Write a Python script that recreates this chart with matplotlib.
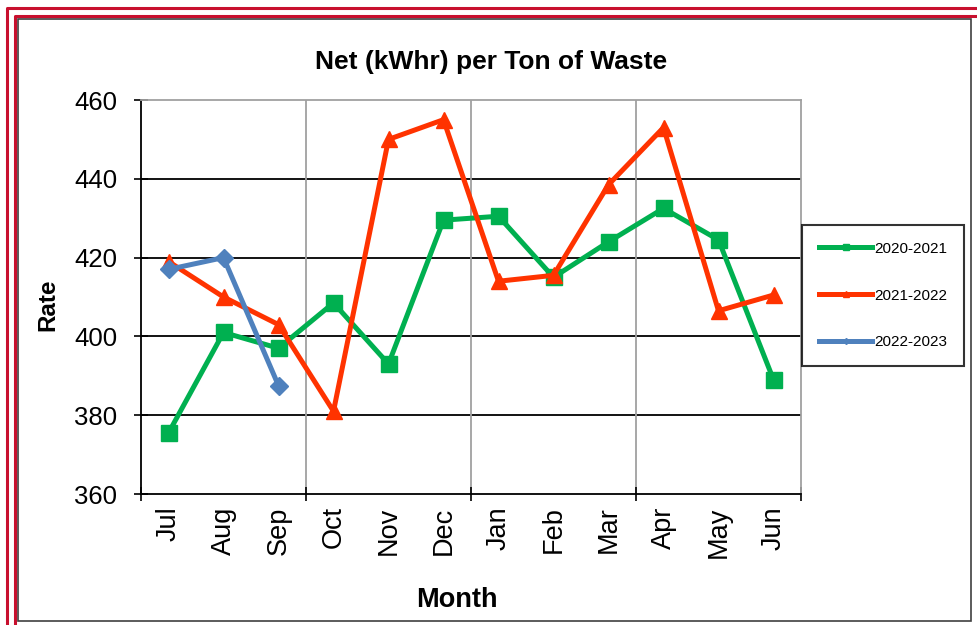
import matplotlib
matplotlib.use("Agg")
import matplotlib.pyplot as plt
from matplotlib.lines import Line2D
from matplotlib.patches import Rectangle

plt.rcParams['font.family'] = ['Liberation Sans', 'DejaVu Sans']

# data
months = ["Jul", "Aug", "Sep", "Oct", "Nov", "Dec",
          "Jan", "Feb", "Mar", "Apr", "May", "Jun"]
fy2021 = [375.5, 401.0, 397.0, 408.5, 393.0, 429.5, 430.5, 415.0, 424.0, 432.5, 424.5, 389.0]
fy2122 = [419.0, 410.0, 403.0, 381.0, 450.0, 455.0, 414.0, 415.5, 438.5, 453.0, 406.5, 410.5]
fy2223 = [417.0, 420.0, 387.5]

green = "#00B050"
red = "#FF3300"
blue = "#4F81BD"

W, H = 977, 625
fig = plt.figure(figsize=(W / 100, H / 100), dpi=100)

# axes placed in pixel terms
left, right, top, bottom = 141, 801, 100, 494
ax = fig.add_axes([left / W, 1 - bottom / H, (right - left) / W, (bottom - top) / H])

x = list(range(len(months)))
ax.plot(x, fy2021, color=green, lw=3.6, marker='s', ms=11.5, zorder=3)
ax.plot(x, fy2122, color=red, lw=3.6, marker='^', ms=11.5, zorder=4)
ax.plot(x[:len(fy2223)], fy2223, color=blue, lw=3.6, marker='D', ms=9, zorder=5)

ax.set_xlim(-0.5, 11.5)
ax.set_ylim(360, 460)
ax.set_yticks([360, 380, 400, 420, 440, 460])

# month labels as minor ticks, boundaries as major ticks
ax.set_xticks([-0.5, 2.5, 5.5, 8.5, 11.5])
ax.set_xticklabels([])
ax.set_xticks(x, minor=True)
ax.set_xticklabels(months, minor=True, rotation=90, fontsize=19.5)
ax.tick_params(axis='x', which='minor', length=0, pad=9)
ax.tick_params(axis='x', which='major', direction='inout', length=10, width=1.2)
ax.tick_params(axis='y', direction='inout', length=10, width=1.2, labelsize=18.5, pad=12)

# gridlines
for yv in [380, 400, 420, 440]:
    ax.axhline(yv, color='black', lw=1.3, zorder=1)
for xv in [2.5, 5.5, 8.5]:
    ax.axvline(xv, color='#A0A0A0', lw=1.3, zorder=1)

ax.spines['left'].set_color('black')
ax.spines['left'].set_linewidth(1.3)
ax.spines['bottom'].set_color('black')
ax.spines['bottom'].set_linewidth(1.3)
ax.spines['top'].set_color('#A0A0A0')
ax.spines['top'].set_linewidth(1.3)
ax.spines['right'].set_color('#A0A0A0')
ax.spines['right'].set_linewidth(1.3)

# titles
fig.text(491 / W, 1 - 62 / H, "Net (kWhr) per Ton of Waste", ha='center', va='center',
         fontsize=19, fontweight='bold')
fig.text(457 / W, 1 - 600 / H, "Month", ha='center', va='center',
         fontsize=19.5, fontweight='bold')
fig.text(48 / W, 1 - 305 / H, "Rate", ha='center', va='center', rotation=90,
         fontsize=17.5, fontweight='bold')

# legend
handles = [Line2D([], [], color=green, lw=3.6, marker='s', ms=4),
           Line2D([], [], color=red, lw=3.6, marker='^', ms=4),
           Line2D([], [], color=blue, lw=3.6, marker='D', ms=3)]
labels = ["2020-2021", "2021-2022", "2022-2023"]
leg = fig.legend(handles, labels, loc='upper left',
                 bbox_to_anchor=(802 / W, 1 - 225 / H),
                 fontsize=11, frameon=True, fancybox=False, edgecolor='black',
                 handlelength=3.5, handletextpad=0.1, labelspacing=2.15,
                 borderpad=1.1, borderaxespad=0)
leg.get_frame().set_linewidth(1.5)

# frame around the chart
def fx(px):
    return px / W

def fy(py):
    return 1 - py / H

fig.add_artist(Line2D([fx(7), fx(7), fx(W)], [fy(H), fy(8), fy(8)], color='#C8102E', lw=2.2))
fig.add_artist(Line2D([fx(15), fx(15), fx(W)], [fy(H), fy(16), fy(16)], color='#C8102E', lw=2.2))
fig.add_artist(Rectangle((fx(18), fy(621)), fx(971) - fx(18), fy(19) - fy(621),
                         fill=False, edgecolor='#404040', lw=1.2))

fig.savefig("out.png", dpi=100)
